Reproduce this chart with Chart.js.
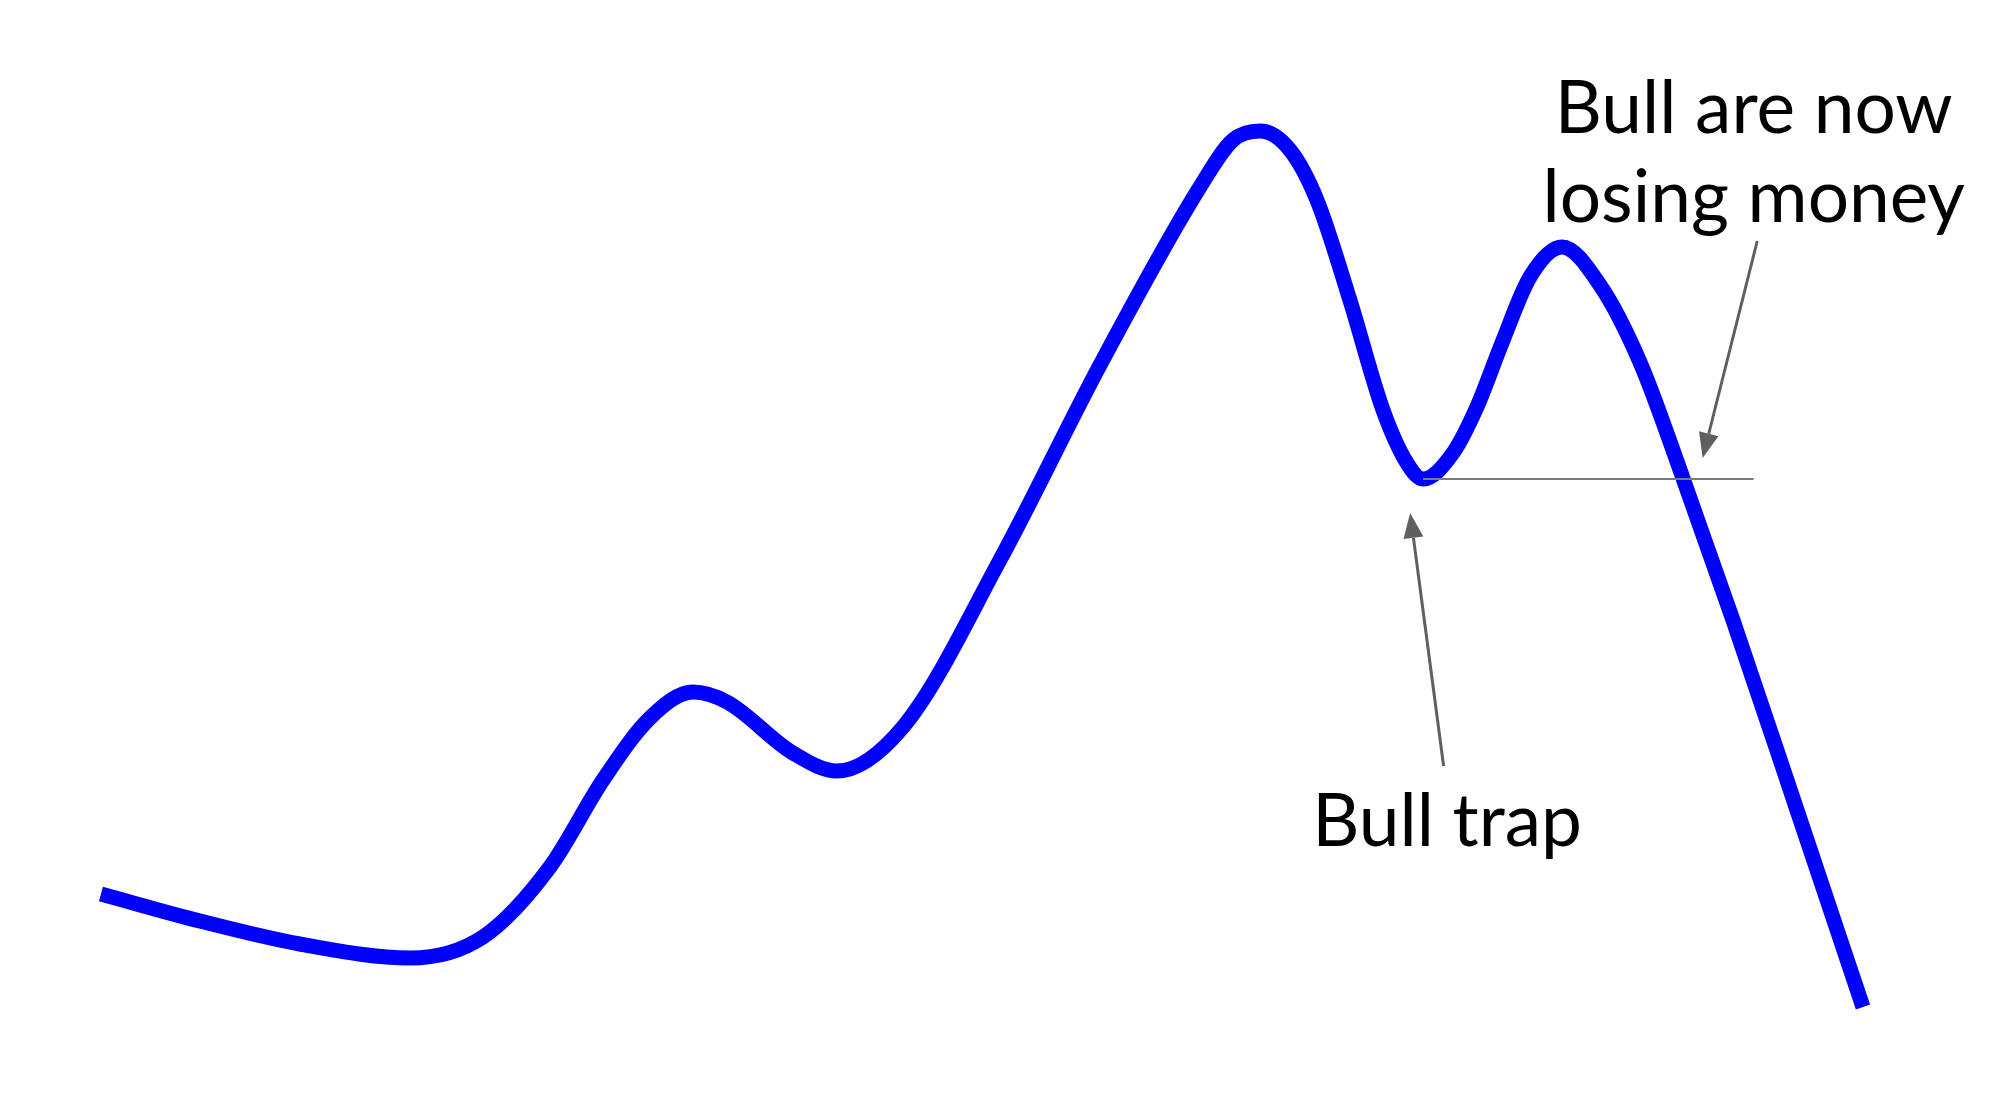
<!DOCTYPE html>
<html>
<head>
<meta charset="utf-8">
<script src="https://cdn.jsdelivr.net/npm/chart.js@4.4.1/dist/chart.umd.min.js"></script>
<style>
  html, body { margin: 0; padding: 0; background: #ffffff; }
  #wrap { width: 1999px; height: 1104px; position: relative; }
</style>
</head>
<body>
<div id="wrap"><canvas id="c"></canvas></div>
<script>
// ---- data (time index, price) ----
const timeSteps = [0, 5.62, 11.29, 17.54, 21.68, 25.48, 28.49, 31.16, 33.60, 35.53, 39.27, 41.77, 45.52, 51.02, 56.70, 62.37, 64.25, 65.78, 67.48, 69.01, 70.88, 72.76, 74.12, 75.03, 76.73, 78.09, 79.51, 81.10, 82.92, 85.07, 87.34, 89.78, 92.62, 96.31, 100];
const prices    = [21.0, 18.3, 16.0, 14.6, 16.7, 23.7, 32.4, 38.6, 41.2, 40.2, 35.1, 33.3, 37.7, 54.4, 73.9, 91.7, 96.4, 97.3, 95.4, 90.4, 80.4, 69.4, 64.1, 62.5, 65.1, 69.7, 76.1, 82.7, 85.7, 81.9, 74.2, 62.6, 48.4, 29.1, 9.7];

// bull-trap support level
const supportLevel = 62.5;
const supportFrom = 75.03;
const supportTo = 93.8;

// annotations: arrows [tailT, tailP, tipT, tipP]
const arrowBullTrap = [76.2, 33.8, 74.3, 59.1];
const arrowLosing   = [94.0, 86.3, 90.9, 64.6];

// labels: [text, t, baseline price]
const labelTexts = ["Bull trap", "Bull are now", "losing money"];
const labelT     = [76.4, 93.8, 93.8];
const labelP     = [25.8, 97.1, 88.2];

const points = timeSteps.map((t, i) => ({ x: t, y: prices[i] }));

const annotationPlugin = {
  id: 'annot',
  afterDatasetsDraw(chart) {
    const ctx = chart.ctx;
    const xs = chart.scales.x, ys = chart.scales.y;
    const X = v => xs.getPixelForValue(v);
    const Y = v => ys.getPixelForValue(v);
    ctx.save();
    // support line
    ctx.strokeStyle = '#7a7a7a';
    ctx.lineWidth = 2;
    ctx.beginPath();
    ctx.moveTo(X(supportFrom), Y(supportLevel));
    ctx.lineTo(X(supportTo), Y(supportLevel));
    ctx.stroke();
    // arrows
    function arrow(a) {
      const x1 = X(a[0]), y1 = Y(a[1]), x2 = X(a[2]), y2 = Y(a[3]);
      const ang = Math.atan2(y2 - y1, x2 - x1);
      const hl = 25, hw = 10;
      const bx = x2 - hl * Math.cos(ang), by = y2 - hl * Math.sin(ang);
      ctx.strokeStyle = '#5f5f5f';
      ctx.fillStyle = '#5f5f5f';
      ctx.lineWidth = 3;
      ctx.beginPath();
      ctx.moveTo(x1, y1);
      ctx.lineTo(bx, by);
      ctx.stroke();
      ctx.beginPath();
      ctx.moveTo(x2, y2);
      ctx.lineTo(bx + hw * Math.sin(ang), by - hw * Math.cos(ang));
      ctx.lineTo(bx - hw * Math.sin(ang), by + hw * Math.cos(ang));
      ctx.closePath();
      ctx.fill();
    }
    arrow(arrowBullTrap);
    arrow(arrowLosing);
    // labels
    ctx.fillStyle = '#000000';
    ctx.font = '400 73px Lato, "Open Sans", sans-serif';
    ctx.textAlign = 'center';
    ctx.textBaseline = 'alphabetic';
    labelTexts.forEach((t, i) => ctx.fillText(t, X(labelT[i]), Y(labelP[i])));
    ctx.restore();
  }
};

new Chart(document.getElementById('c'), {
  type: 'line',
  data: {
    datasets: [{
      data: points,
      borderColor: '#0000ff',
      borderWidth: 15,
      pointRadius: 0,
      fill: false,
      cubicInterpolationMode: 'monotone',
      borderCapStyle: 'butt',
      borderJoinStyle: 'round'
    }]
  },
  options: {
    responsive: true,
    maintainAspectRatio: false,
    animation: false,
    layout: { padding: 0 },
    plugins: { legend: { display: false }, tooltip: { enabled: false } },
    elements: { line: { capBezierPoints: false } },
    scales: {
      x: { type: 'linear', min: -5.73, max: 107.72, display: false },
      y: { type: 'linear', min: 0, max: 110.4, display: false }
    }
  },
  plugins: [annotationPlugin]
});
</script>
</body>
</html>
